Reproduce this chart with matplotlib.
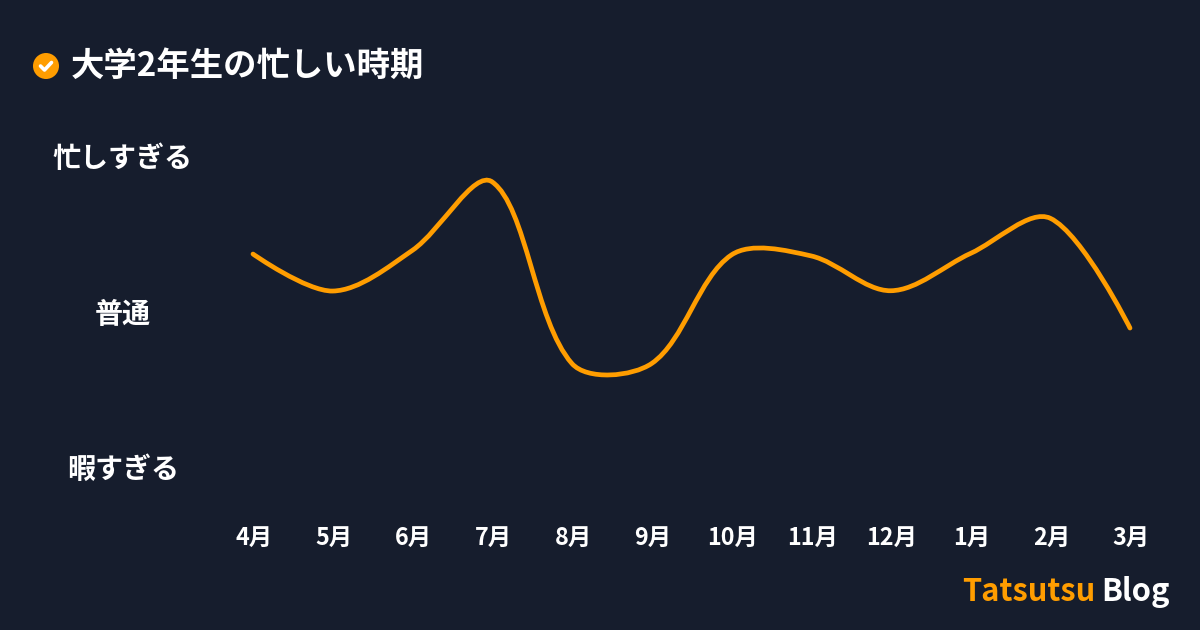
import matplotlib
matplotlib.use("Agg")
import matplotlib.pyplot as plt
from matplotlib.path import Path
from matplotlib.patches import PathPatch, Circle
from matplotlib.transforms import ScaledTranslation
import numpy as np

plt.rcParams['font.family'] = ['Noto Sans CJK JP', 'DejaVu Sans']

months = ["4月", "5月", "6月", "7月", "8月", "9月", "10月", "11月", "12月", "1月", "2月", "3月"]
busy = [68.8, 56.9, 70.0, 92.0, 33.6, 33.6, 68.5, 68.2, 57.0, 69.0, 80.3, 45.0]
level_values = [0, 50, 100]
level_labels = ["暇すぎる", "普通", "忙しすぎる"]
title = "大学2年生の忙しい時期"
BG = "#161d2d"
ORANGE = "#ff9d00"
W, H = 1200, 630

fig = plt.figure(figsize=(W / 100, H / 100), dpi=100, facecolor=BG)
left, right, top, bottom = 253, 1130, 157, 468
ax = fig.add_axes([left / W, 1 - bottom / H, (right - left) / W, (bottom - top) / H])
ax.set_facecolor(BG)
ax.set_xlim(0, len(months) - 1)
ax.set_ylim(0, 100)
for s in ax.spines.values():
    s.set_visible(False)

ax.set_xticks(range(len(months)), months, fontsize=16.8, fontweight="bold", color="white")
ax.tick_params(axis="x", length=0, pad=41.5)
ax.set_yticks(level_values, level_labels, fontsize=20.2, fontweight="bold", color="white", ha="center")
ax.tick_params(axis="y", length=0, pad=93.7)
shift_x = ScaledTranslation(1.2 / 100, 0, fig.dpi_scale_trans)
for lab in ax.get_xticklabels():
    lab.set_transform(lab.get_transform() + shift_x)
shift_y = ScaledTranslation(0, 1 / 100, fig.dpi_scale_trans)
for lab in ax.get_yticklabels():
    lab.set_transform(lab.get_transform() + shift_y)

# Spline through the data
fig.canvas.draw()
x = np.arange(len(busy), dtype=float)
pts = ax.transData.transform(np.column_stack([x, busy]))
t = 0.33
before, after = pts.copy(), pts.copy()
for i in range(1, len(pts) - 1):
    d01 = np.hypot(*(pts[i] - pts[i - 1]))
    d12 = np.hypot(*(pts[i + 1] - pts[i]))
    span = pts[i + 1] - pts[i - 1]
    before[i] = pts[i] - t * d01 / (d01 + d12) * span
    after[i] = pts[i] + t * d12 / (d01 + d12) * span
verts, codes = [pts[0]], [Path.MOVETO]
for i in range(len(pts) - 1):
    verts += [after[i], before[i + 1], pts[i + 1]]
    codes += [Path.CURVE4] * 3
inv = ax.transData.inverted()
curve = Path(inv.transform(np.array(verts)), codes)
ax.add_patch(PathPatch(curve, facecolor="none", edgecolor=ORANGE, lw=3.4, capstyle="round", clip_on=False))

# Title with icon
ov = fig.add_axes([0, 0, 1, 1], facecolor="none")
ov.set_xlim(0, W)
ov.set_ylim(H, 0)
ov.axis("off")
ov.add_patch(Circle((46, 66), 13, facecolor=ORANGE, edgecolor="none"))
ov.plot([40.5, 44.5, 51.5], [66, 70, 62.5], color="white", lw=2.6, solid_capstyle="round", solid_joinstyle="round")
ov.text(70.5, 66.5, title, fontsize=24, fontweight="bold", color="white", va="center", ha="left")

# Footer
ov.text(962, 592, "Tatsutsu", fontsize=22.2, fontweight="bold", color=ORANGE, va="center", ha="left")
ov.text(1169.5, 592, "Blog", fontsize=22.2, fontweight="bold", color="white", va="center", ha="right")

fig.savefig("out.png", dpi=100, facecolor=BG)
